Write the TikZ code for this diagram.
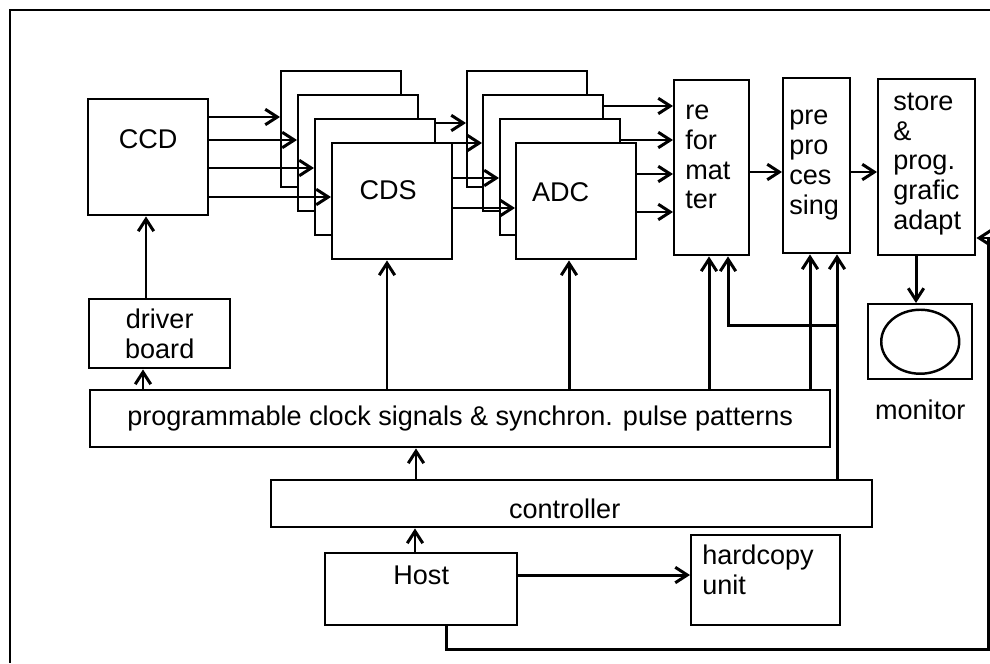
\documentclass[tikz,border=0pt]{standalone}
\usepackage{fontspec}
\setmainfont{Liberation Sans}
\usetikzlibrary{arrows.meta, positioning, shapes.geometric}

\begin{document}
\begin{tikzpicture}[
    x=0.02cm, y=-0.02cm,
    font=\fontsize{15.4}{17}\selectfont,
    box/.style={rectangle, draw, line width=1.4pt, fill=white, anchor=north west, inner sep=0pt, align=center},
    stack/.style={box, minimum width=2.4cm, minimum height=2.32cm},
    txt/.style={anchor=west, align=left, inner sep=0pt},
    mid/.style={anchor=center, inner sep=0pt},
    arrow/.style={-{Straight Barb[length=2.4mm, width=3.1mm]}, line width=1.7pt}
]
\useasboundingbox (0,0) rectangle (990,663);

% frame
\draw[line width=1.5pt] (990,10) -- (10,10) -- (10,663);

% sensor and its driver
\node[box, minimum width=2.4cm, minimum height=2.32cm,
      label={[mid, yshift=-0.82cm]north:CCD}] (ccd) at (87,98) {};
\node[box, minimum width=2.82cm, minimum height=1.38cm] (driver) at (88,298) {driver\\board};

% CDS channels, back to front
\node[stack] (cds0) at (280,70) {};
\node[stack] (cds1) at (297,94) {};
\node[stack] (cds2) at (314,118) {};
\node[stack, label={[mid, xshift=-0.08cm, yshift=-0.96cm]north:CDS}] (cds3) at (331,142) {};

% ADC channels, back to front
\node[stack] (adc0) at (466,70) {};
\node[stack] (adc1) at (482,94) {};
\node[stack] (adc2) at (499,118) {};
\node[stack, label={[mid, xshift=-0.31cm, yshift=-1.0cm]north:ADC}] (adc3) at (515,142) {};

% processing chain
\node[box, minimum width=1.5cm, minimum height=3.5cm,
      label={[txt, xshift=0.24cm, yshift=-1.56cm]north west:re\\for\\mat\\ter}] (refmt) at (673,79) {};
\node[box, minimum width=1.34cm, minimum height=3.5cm,
      label={[txt, xshift=0.14cm, yshift=-1.76cm]north west:pre\\pro\\ces\\sing}] (prep) at (782,77) {};
\node[box, minimum width=1.94cm, minimum height=3.52cm,
      label={[txt, xshift=0.32cm, yshift=-1.72cm]north west:store\\\&\\prog.\\grafic\\adapt}] (store) at (877,78) {};

% display
\node[box, minimum width=2.08cm, minimum height=1.5cm] (monitor) at (867,303) {};
\draw[line width=1.4pt] (monitor.center) ellipse (0.78cm and 0.64cm);
\node[below=0.26cm of monitor] (montxt) {monitor};

% timing and control
\node[box, minimum width=14.8cm, minimum height=1.14cm] (clock) at (89,389)
    {programmable clock signals \& synchron. pulse patterns};
\node[box, minimum width=12.02cm, minimum height=0.94cm,
      label={[mid, xshift=-0.14cm, yshift=-0.1cm]center:controller}] (ctrl) at (270,479) {};
\node[box, minimum width=3.84cm, minimum height=1.44cm,
      label={[mid, yshift=-0.47cm]north:Host}] (host) at (324,552) {};
\node[box, minimum width=2.98cm, minimum height=1.8cm,
      label={[txt, xshift=0.24cm, yshift=-0.72cm]north west:hardcopy\\unit}] (hcopy) at (690,534) {};

\coordinate (tap) at (837,325);
\coordinate (bend) at (988,649);

% CCD outputs into the CDS channels
\draw[arrow] (ccd.east |- 0,117) -- (cds0.west |- 0,117);
\draw[arrow] (ccd.east |- 0,140) -- (cds1.west |- 0,140);
\draw[arrow] (ccd.east |- 0,168) -- (cds2.west |- 0,168);
\draw[arrow] (ccd.east |- 0,197) -- (cds3.west |- 0,197);

% CDS into ADC
\draw[arrow] (cds2.east |- 0,123) -- (adc0.west |- 0,123);
\draw[arrow] (cds3.east |- 0,143) -- (adc1.west |- 0,143);
\draw[arrow] (cds3.east |- 0,178) -- (adc2.west |- 0,178);
\draw[arrow] (cds3.east |- 0,208) -- (adc3.west |- 0,208);

% ADC into reformatter
\draw[arrow] (adc1.east |- 0,106) -- (refmt.west |- 0,106);
\draw[arrow] (adc2.east |- 0,140) -- (refmt.west |- 0,140);
\draw[arrow] (adc3.east |- 0,174) -- (refmt.west |- 0,174);
\draw[arrow] (adc3.east |- 0,212) -- (refmt.west |- 0,212);

\draw[arrow] (refmt.east |- 0,172) -- (prep.west |- 0,172);
\draw[arrow] (prep.east |- 0,172) -- (store.west |- 0,172);
\draw[arrow] (store.south -| 916,0) -- (monitor.north -| 916,0);

% clock lines
\draw[arrow] (driver.north -| 146,0) -- (ccd.south -| 146,0);
\draw[arrow] (clock.north -| 143,0) -- (driver.south -| 143,0);
\draw[arrow] (clock.north -| 387,0) -- (cds3.south -| 387,0);
\draw[arrow] (clock.north -| 569,0) -- (adc3.south -| 569,0);
\draw[arrow] (clock.north -| 709,0) -- (refmt.south -| 709,0);
\draw[arrow] (clock.north -| 810,0) -- (prep.south -| 810,0);

% controller and host
\draw[arrow] (ctrl.north -| 416,0) -- (clock.south -| 416,0);
\draw[arrow] (ctrl.north -| 837,0) -- (prep.south -| 837,0);
\draw[arrow] (tap) -| (refmt.south -| 728,0);
\draw[arrow] (host.north -| 415,0) -- (ctrl.south -| 415,0);
\draw[arrow] (host.east |- 0,575) -- (hcopy.west |- 0,575);
\draw[arrow] (host.south -| 446,0) |- (bend) |- (store.east |- 0,238);

\end{tikzpicture}
\end{document}
